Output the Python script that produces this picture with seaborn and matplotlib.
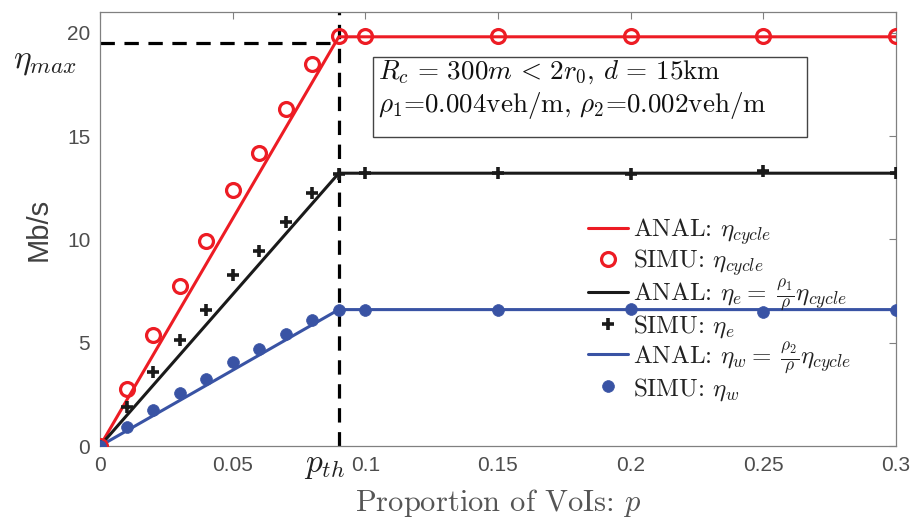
import matplotlib
matplotlib.use("Agg")
import matplotlib.pyplot as plt
import matplotlib.patches as mpatches
import seaborn as sns
import pandas as pd

# ---------------- data ----------------
p_sim = [0, 0.01, 0.02, 0.03, 0.04, 0.05, 0.06, 0.07, 0.08, 0.09, 0.10, 0.15, 0.20, 0.25, 0.30]
cycle_sim = [0, 2.75, 5.36, 7.74, 9.94, 12.37, 14.19, 16.3, 18.47, 19.82, 19.82, 19.82, 19.82, 19.82, 19.82]
e_sim = [0, 1.87, 3.59, 5.15, 6.6, 8.26, 9.42, 10.85, 12.25, 13.17, 13.2, 13.22, 13.14, 13.33, 13.2]
w_sim = [0, 0.9, 1.74, 2.58, 3.24, 4.07, 4.71, 5.44, 6.12, 6.6, 6.6, 6.6, 6.65, 6.49, 6.6]

p_anal = [0, 0.09, 0.30]
cycle_anal = [0, 19.8, 19.8]
e_anal = [0, 13.2, 13.2]
w_anal = [0, 6.6, 6.6]

p_th = 0.09
eta_max_dash = 19.5

x_ticks = [0, 0.05, 0.1, 0.15, 0.2, 0.25, 0.3]
x_ticklabels = ["0", "0.05", "0.1", "0.15", "0.2", "0.25", "0.3"]
y_ticks = [0, 5, 10, 15, 20]
y_ticklabels = ["0", "5", "10", "15", "20"]

RED = "#ED1C24"
BLACK = "#1A1A1A"
BLUE = "#3953A4"
GRAY_TXT = "#4D4D4D"

# ---------------- style ----------------
sns.set_theme(style="white")
plt.rcParams["font.family"] = ["Liberation Sans", "DejaVu Sans"]
plt.rcParams["mathtext.fontset"] = "cm"
plt.rcParams["axes.formatter.use_mathtext"] = True

fig = plt.figure(figsize=(9.15, 5.2), dpi=100)
ax = fig.add_axes([100 / 915, 74 / 520, 796 / 915, 434 / 520])

anal_df = pd.DataFrame({"p": p_anal, "cycle": cycle_anal, "e": e_anal, "w": w_anal})
sim_df = pd.DataFrame({"p": p_sim, "cycle": cycle_sim, "e": e_sim, "w": w_sim})

lw = 2.2
sns.lineplot(data=anal_df, x="p", y="cycle", ax=ax, color=RED, lw=lw,
             label=r"ANAL: $\eta_{cycle}$", zorder=3)
sns.lineplot(data=sim_df, x="p", y="cycle", ax=ax, color=RED, linestyle="none",
             marker="o", markersize=10, markerfacecolor="none", markeredgecolor=RED,
             markeredgewidth=2.3, label=r"SIMU: $\eta_{cycle}$", zorder=4)
sns.lineplot(data=anal_df, x="p", y="e", ax=ax, color=BLACK, lw=lw,
             label=r"ANAL: $\eta_e =\;\frac{\rho_1}{\rho}\eta_{cycle}$", zorder=3)
sns.lineplot(data=sim_df, x="p", y="e", ax=ax, color=BLACK, linestyle="none",
             marker="+", markersize=9, markeredgecolor=BLACK,
             markeredgewidth=2.6, label=r"SIMU: $\eta_e$", zorder=4)
sns.lineplot(data=anal_df, x="p", y="w", ax=ax, color=BLUE, lw=lw,
             label=r"ANAL: $\eta_w =\;\frac{\rho_2}{\rho}\eta_{cycle}$", zorder=3)
sns.lineplot(data=sim_df, x="p", y="w", ax=ax, color=BLUE, linestyle="none",
             marker="o", markersize=8.5, markerfacecolor=BLUE, markeredgecolor=BLUE,
             markeredgewidth=0.5, label=r"SIMU: $\eta_w$", zorder=5)

# dashed guide lines
ax.plot([0, p_th], [eta_max_dash, eta_max_dash], color="black", lw=2.3,
        linestyle=(0, (4.5, 3.0)), zorder=2)
ax.plot([p_th, p_th], [0, 21], color="black", lw=2.3,
        linestyle=(0, (4.5, 3.0)), zorder=2)

ax.set_xlim(0, 0.3)
ax.set_ylim(0, 21)
ax.set_xticks(x_ticks)
ax.set_xticklabels(x_ticklabels)
ax.set_yticks(y_ticks)
ax.set_yticklabels(y_ticklabels)
ax.tick_params(axis="both", direction="in", length=5, width=0.8, color="#808080",
               labelsize=15, labelcolor=GRAY_TXT, top=True, right=True, pad=7)
for s in ax.spines.values():
    s.set_color("#808080")
    s.set_linewidth(0.9)
    s.set_visible(True)

ax.set_xlabel(r"Proportion of VoIs: $p$", fontsize=22, family="cmr10",
              color="#555555", labelpad=9)
ax.set_ylabel("Mb/s", fontsize=21, color="#404040", labelpad=10)

# special labels
ax.annotate(r"$\eta_{max}$", xy=(0, eta_max_dash), xytext=(-17, -13.5),
            textcoords="offset points", ha="right", va="center",
            fontsize=24, color="#222222", annotation_clip=False)
ax.annotate(r"$p_{th}$", xy=(p_th, 0), xytext=(5, -14),
            textcoords="offset points", ha="right", va="center",
            fontsize=24, color="#222222", annotation_clip=False)

# text box
rect = mpatches.Rectangle((273 / 796, 309 / 434), 434 / 796, 80 / 434,
                          transform=ax.transAxes, fc="white", ec="#444444",
                          lw=1.0, zorder=6)
ax.add_patch(rect)
ax.text(278 / 796, (446 - 79) / 434, r"$R_c\,=\,300m\,<\,2r_0,\,d\,=\,15$km",
        transform=ax.transAxes, fontsize=19.5, family="cmr10", va="baseline",
        ha="left", color="#111111", zorder=7)
ax.text(278 / 796, (446 - 112) / 434, r"$\rho_1$=0.004veh/m, $\rho_2$=0.002veh/m",
        transform=ax.transAxes, fontsize=19.5, family="cmr10", va="baseline",
        ha="left", color="#111111", zorder=7)

leg = ax.legend(loc="upper left", bbox_to_anchor=((588 - 100) / 796, (446 - 216) / 434),
                frameon=False, prop={"family": "cmr10", "size": 18},
                handlelength=1.6, handletextpad=0.2, labelspacing=0.0,
                borderpad=0, borderaxespad=0)
for t in leg.get_texts():
    t.set_color("#222222")

fig.savefig("out.png", dpi=100)
